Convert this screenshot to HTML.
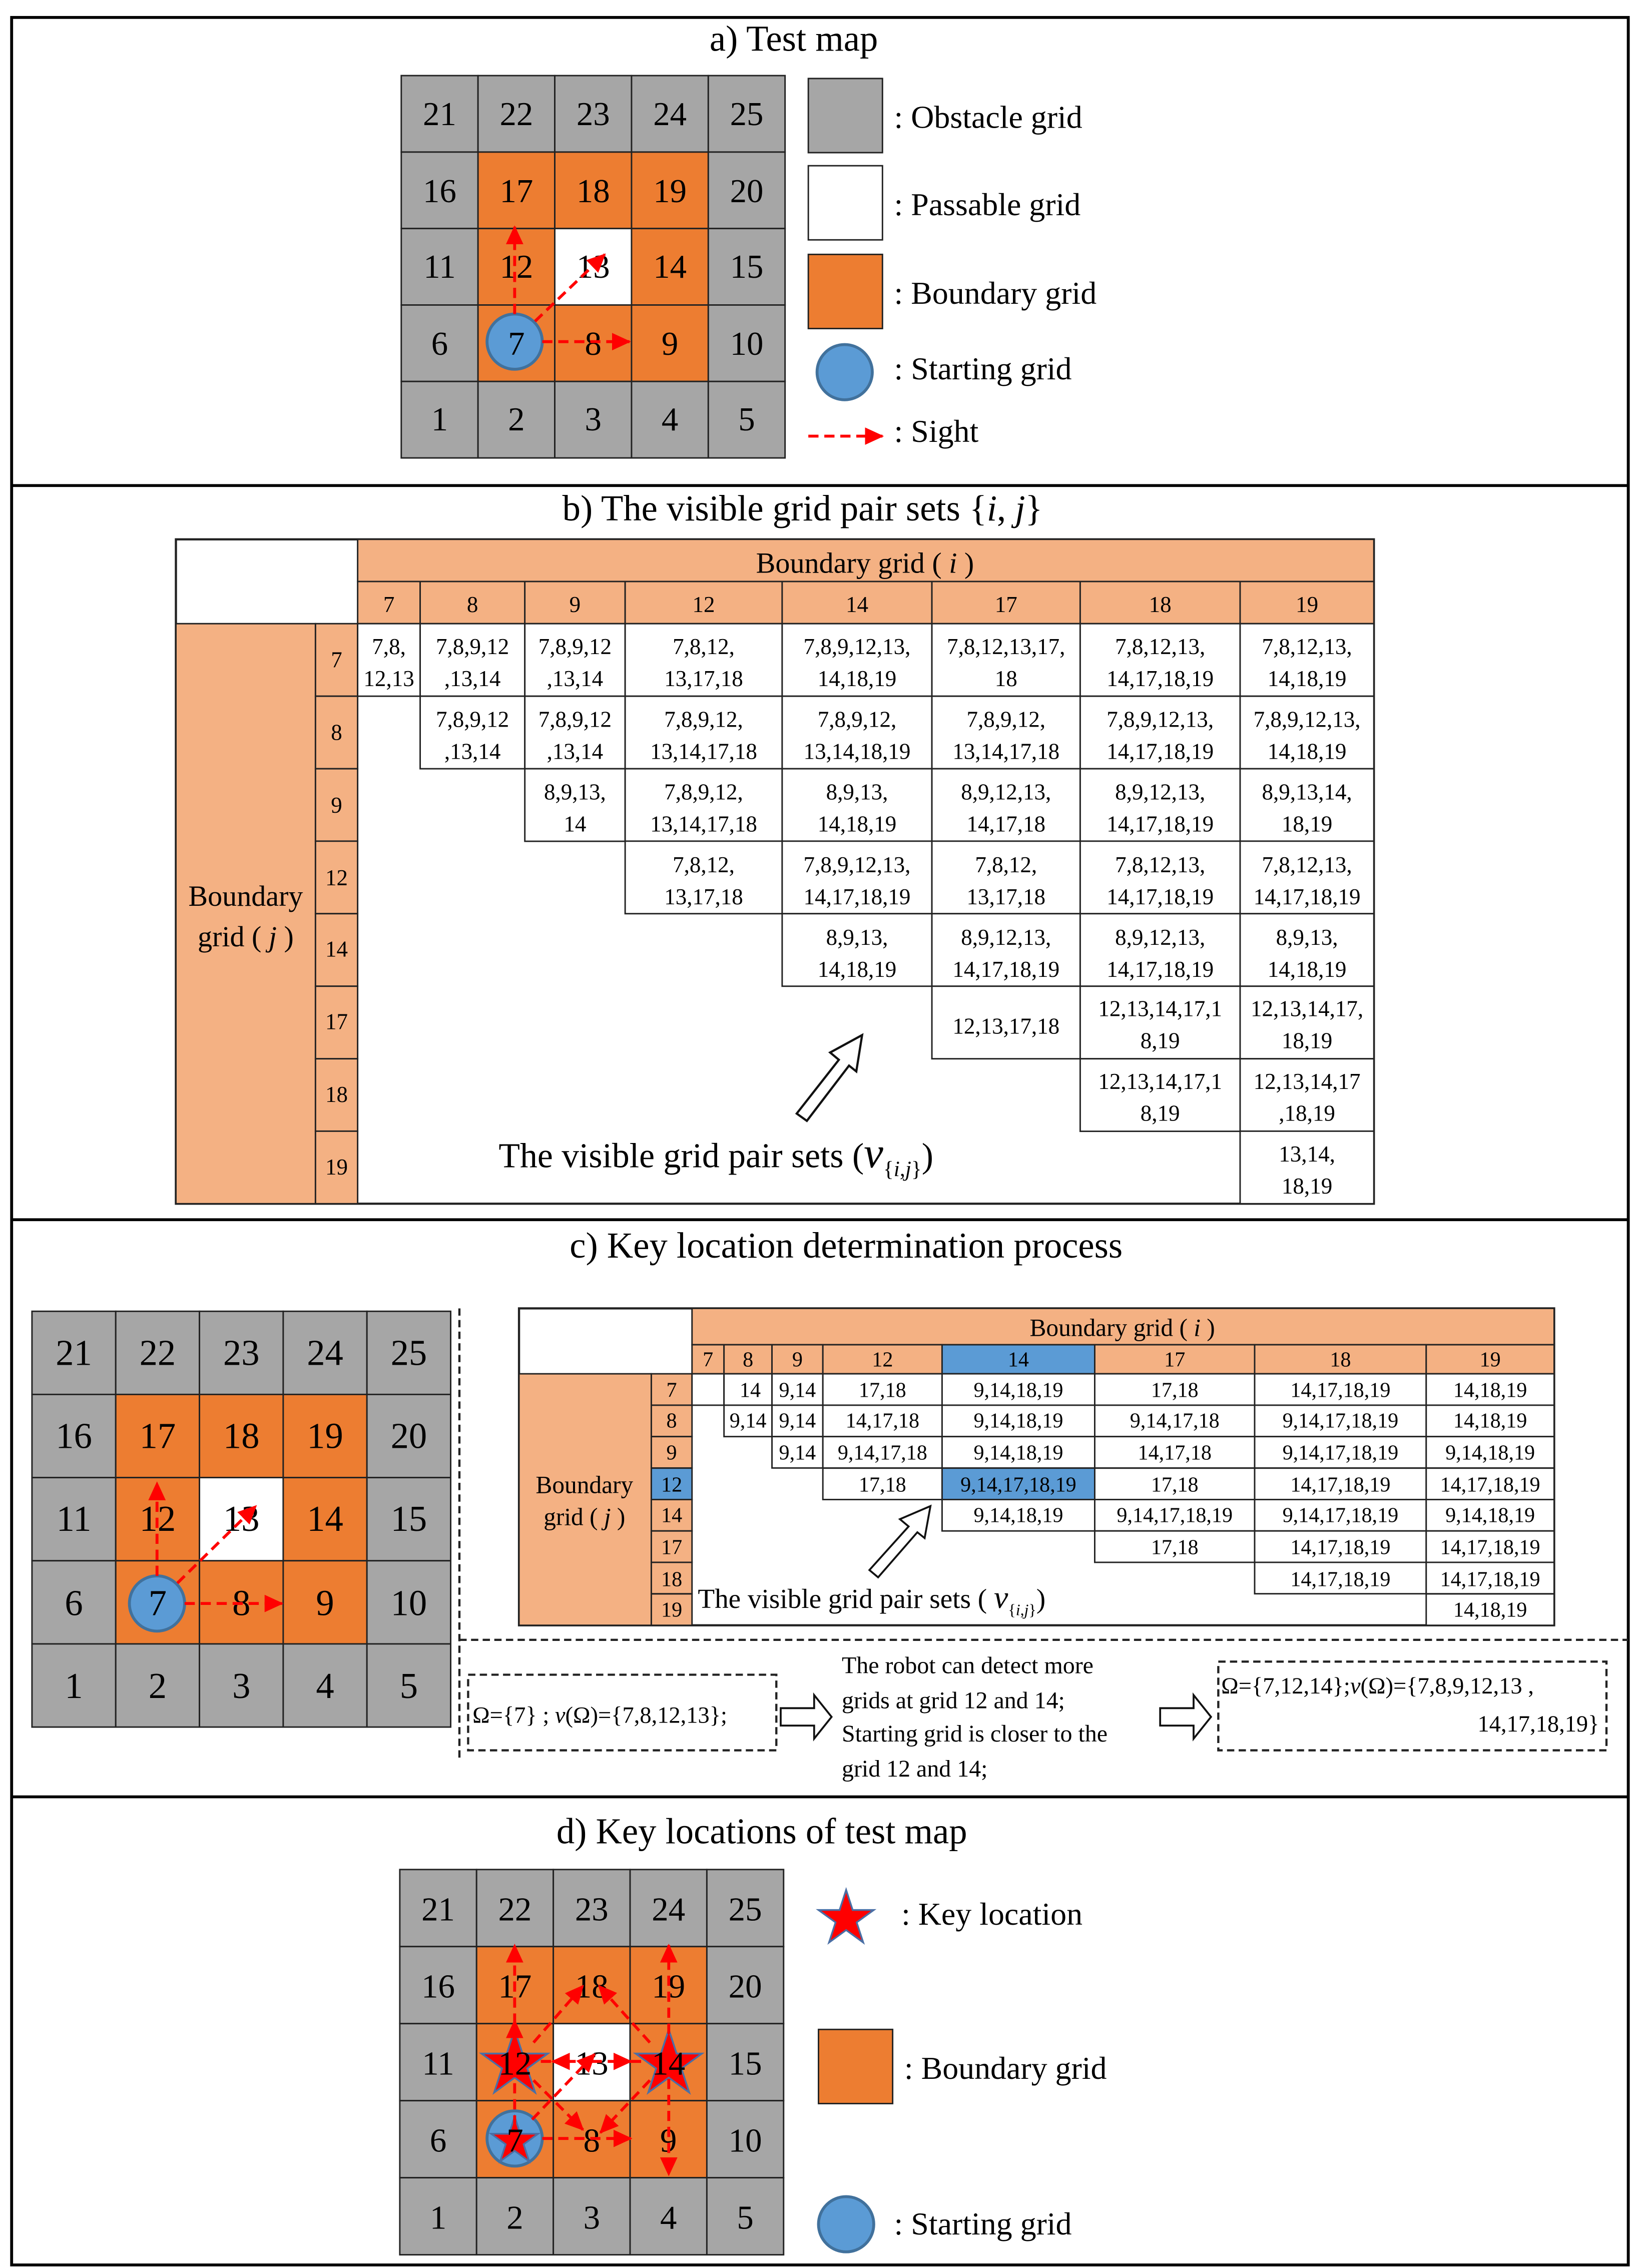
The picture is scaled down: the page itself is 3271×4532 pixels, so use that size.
<!DOCTYPE html>
<html><head><meta charset="utf-8"><style>
html,body{margin:0;padding:0;background:#fff}
svg{display:block}
text{font-family:"Liberation Serif",serif;fill:#000}
.g{fill:#A6A6A6;stroke:#222;stroke-width:1}
.o{fill:#ED7D31;stroke:#222;stroke-width:1}
.w{fill:#fff;stroke:#222;stroke-width:1}
.n{font-size:23px;text-anchor:middle}
.nc{font-size:25px;text-anchor:middle}
.t{font-size:25px;text-anchor:middle}
.lg{font-size:22px}
.h{fill:#F4B183;stroke:#222;stroke-width:1}
.c{fill:#fff;stroke:#222;stroke-width:1}
.b{fill:#5B9BD5;stroke:#222;stroke-width:1}
.tb{font-size:15.5px;text-anchor:middle}
.tc{font-size:14.5px;text-anchor:middle}
.ar{stroke:#FF0000;stroke-width:2;stroke-dasharray:7 4;fill:none}
.st{fill:#FF0000;stroke:#4A6FA5;stroke-width:1.2}
.dash{stroke:#222;stroke-width:1.5;stroke-dasharray:5 3;fill:none}
</style></head><body>
<svg width="3271" height="4532" viewBox="0 0 1126 1560.1" preserveAspectRatio="none" xmlns="http://www.w3.org/2000/svg">
<defs>
<marker id="ah" markerWidth="8" markerHeight="8" refX="7" refY="4" orient="auto" markerUnits="userSpaceOnUse" viewBox="0 0 8 8"><path d="M0,0 L8,4 L0,8 z" fill="#FF0000" transform="scale(1)"/></marker>
<marker id="ah2" markerWidth="13" markerHeight="12" refX="12" refY="6" orient="auto" markerUnits="userSpaceOnUse"><path d="M0,0 L13,6 L0,12 z" fill="#FF0000"/></marker>
<polygon id="star" points="0,-1 0.2245,-0.309 0.951,-0.309 0.363,0.118 0.588,0.809 0,0.382 -0.588,0.809 -0.363,0.118 -0.951,-0.309 -0.2245,-0.309"/>
</defs>
<rect x="0" y="0" width="1126" height="1560.1" fill="#fff"/>
<!-- outer frame -->
<rect x="8" y="12" width="1112" height="1546" fill="none" stroke="#000" stroke-width="2"/>
<line x1="8" y1="334" x2="1120" y2="334" stroke="#000" stroke-width="2"/>
<line x1="8" y1="839" x2="1120" y2="839" stroke="#000" stroke-width="2"/>
<line x1="8" y1="1236" x2="1120" y2="1236" stroke="#000" stroke-width="2"/>

<!-- ===== a ===== -->
<text x="546" y="35" class="t">a)  Test map</text>
<g>
<rect x="276" y="52" width="52.8" height="52.6" class="g"/><rect x="328.8" y="52" width="52.8" height="52.6" class="g"/><rect x="381.6" y="52" width="52.8" height="52.6" class="g"/><rect x="434.4" y="52" width="52.8" height="52.6" class="g"/><rect x="487.2" y="52" width="52.8" height="52.6" class="g"/>
<rect x="276" y="104.6" width="52.8" height="52.6" class="g"/><rect x="328.8" y="104.6" width="52.8" height="52.6" class="o"/><rect x="381.6" y="104.6" width="52.8" height="52.6" class="o"/><rect x="434.4" y="104.6" width="52.8" height="52.6" class="o"/><rect x="487.2" y="104.6" width="52.8" height="52.6" class="g"/>
<rect x="276" y="157.2" width="52.8" height="52.6" class="g"/><rect x="328.8" y="157.2" width="52.8" height="52.6" class="o"/><rect x="381.6" y="157.2" width="52.8" height="52.6" class="w"/><rect x="434.4" y="157.2" width="52.8" height="52.6" class="o"/><rect x="487.2" y="157.2" width="52.8" height="52.6" class="g"/>
<rect x="276" y="209.8" width="52.8" height="52.6" class="g"/><rect x="328.8" y="209.8" width="52.8" height="52.6" class="o"/><rect x="381.6" y="209.8" width="52.8" height="52.6" class="o"/><rect x="434.4" y="209.8" width="52.8" height="52.6" class="o"/><rect x="487.2" y="209.8" width="52.8" height="52.6" class="g"/>
<rect x="276" y="262.4" width="52.8" height="52.6" class="g"/><rect x="328.8" y="262.4" width="52.8" height="52.6" class="g"/><rect x="381.6" y="262.4" width="52.8" height="52.6" class="g"/><rect x="434.4" y="262.4" width="52.8" height="52.6" class="g"/><rect x="487.2" y="262.4" width="52.8" height="52.6" class="g"/>
<circle cx="354" cy="235" r="19" fill="#5B9BD5" stroke="#41719C" stroke-width="2"/>
<text x="302.4" y="86" class="n">21</text><text x="355.2" y="86" class="n">22</text><text x="408" y="86" class="n">23</text><text x="460.8" y="86" class="n">24</text><text x="513.6" y="86" class="n">25</text>
<text x="302.4" y="139" class="n">16</text><text x="355.2" y="139" class="n">17</text><text x="408" y="139" class="n">18</text><text x="460.8" y="139" class="n">19</text><text x="513.6" y="139" class="n">20</text>
<text x="302.4" y="191" class="n">11</text><text x="355.2" y="191" class="n">12</text><text x="408" y="191" class="n">13</text><text x="460.8" y="191" class="n">14</text><text x="513.6" y="191" class="n">15</text>
<text x="302.4" y="244" class="n">6</text><text x="355.2" y="244" class="n">7</text><text x="408" y="244" class="n">8</text><text x="460.8" y="244" class="n">9</text><text x="513.6" y="244" class="n">10</text>
<text x="302.4" y="296" class="n">1</text><text x="355.2" y="296" class="n">2</text><text x="408" y="296" class="n">3</text><text x="460.8" y="296" class="n">4</text><text x="513.6" y="296" class="n">5</text>
<line x1="354" y1="216" x2="354" y2="156" class="ar" marker-end="url(#ah2)"/>
<line x1="368" y1="221" x2="416" y2="175" class="ar" marker-end="url(#ah2)"/>
<line x1="373" y1="235" x2="433" y2="235" class="ar" marker-end="url(#ah2)"/>
</g>
<rect x="556" y="54" width="51" height="51" class="g"/>
<rect x="556" y="114" width="51" height="51" class="w"/>
<rect x="556" y="175" width="51" height="51" class="o"/>
<circle cx="581" cy="256" r="19" fill="#5B9BD5" stroke="#41719C" stroke-width="2"/>
<line x1="556" y1="300" x2="607" y2="300" class="ar" marker-end="url(#ah2)"/>
<text x="615" y="88" class="lg">: Obstacle grid</text>
<text x="615" y="148" class="lg">: Passable grid</text>
<text x="615" y="209" class="lg">: Boundary grid</text>
<text x="615" y="261" class="lg">: Starting grid</text>
<text x="615" y="304" class="lg">: Sight</text>

<!-- ===== b ===== -->
<text x="552" y="358" class="t">b)  The visible grid pair sets {<tspan font-style="italic">i</tspan>, <tspan font-style="italic">j</tspan>}</text>
<rect x="121" y="371" width="824" height="457" fill="#fff" stroke="#222" stroke-width="1.5"/>
<rect x="246" y="371" width="699" height="29" class="h"/>
<text x="595" y="394" style="font-size:20px;text-anchor:middle">Boundary grid ( <tspan font-style="italic">i</tspan> )</text>
<rect x="246" y="400" width="43" height="29" class="h"/><rect x="289" y="400" width="72" height="29" class="h"/><rect x="361" y="400" width="69" height="29" class="h"/><rect x="430" y="400" width="108" height="29" class="h"/><rect x="538" y="400" width="103" height="29" class="h"/><rect x="641" y="400" width="102" height="29" class="h"/><rect x="743" y="400" width="110" height="29" class="h"/><rect x="853" y="400" width="92" height="29" class="h"/>
<text x="267.5" y="421" class="tb">7</text><text x="325" y="421" class="tb">8</text><text x="395.5" y="421" class="tb">9</text><text x="484" y="421" class="tb">12</text><text x="589.5" y="421" class="tb">14</text><text x="692" y="421" class="tb">17</text><text x="798" y="421" class="tb">18</text><text x="899" y="421" class="tb">19</text>
<rect x="121" y="429" width="96" height="399" class="h"/>
<text x="169" y="623" style="font-size:20px;text-anchor:middle">Boundary</text>
<text x="169" y="651" style="font-size:20px;text-anchor:middle">grid ( <tspan font-style="italic">j</tspan> )</text>
<rect x="217" y="429" width="29" height="49.9" class="h"/><rect x="217" y="478.9" width="29" height="49.9" class="h"/><rect x="217" y="528.8" width="29" height="49.9" class="h"/><rect x="217" y="578.6" width="29" height="49.9" class="h"/><rect x="217" y="628.5" width="29" height="49.9" class="h"/><rect x="217" y="678.4" width="29" height="49.9" class="h"/><rect x="217" y="728.3" width="29" height="49.9" class="h"/><rect x="217" y="778.1" width="29" height="49.9" class="h"/>
<text x="231.5" y="459" class="tb">7</text><text x="231.5" y="509" class="tb">8</text><text x="231.5" y="559" class="tb">9</text><text x="231.5" y="609" class="tb">12</text><text x="231.5" y="658" class="tb">14</text><text x="231.5" y="708" class="tb">17</text><text x="231.5" y="758" class="tb">18</text><text x="231.5" y="808" class="tb">19</text>
<!-- row 7 -->
<rect x="246" y="429" width="43" height="49.9" class="c"/><rect x="289" y="429" width="72" height="49.9" class="c"/><rect x="361" y="429" width="69" height="49.9" class="c"/><rect x="430" y="429" width="108" height="49.9" class="c"/><rect x="538" y="429" width="103" height="49.9" class="c"/><rect x="641" y="429" width="102" height="49.9" class="c"/><rect x="743" y="429" width="110" height="49.9" class="c"/><rect x="853" y="429" width="92" height="49.9" class="c"/>
<text class="tb" x="267.5" y="450">7,8,</text><text class="tb" x="267.5" y="472">12,13</text>
<text class="tb" x="325" y="450">7,8,9,12</text><text class="tb" x="325" y="472">,13,14</text>
<text class="tb" x="395.5" y="450">7,8,9,12</text><text class="tb" x="395.5" y="472">,13,14</text>
<text class="tb" x="484" y="450">7,8,12,</text><text class="tb" x="484" y="472">13,17,18</text>
<text class="tb" x="589.5" y="450">7,8,9,12,13,</text><text class="tb" x="589.5" y="472">14,18,19</text>
<text class="tb" x="692" y="450">7,8,12,13,17,</text><text class="tb" x="692" y="472">18</text>
<text class="tb" x="798" y="450">7,8,12,13,</text><text class="tb" x="798" y="472">14,17,18,19</text>
<text class="tb" x="899" y="450">7,8,12,13,</text><text class="tb" x="899" y="472">14,18,19</text>
<!-- row 8 -->
<rect x="289" y="478.9" width="72" height="49.9" class="c"/><rect x="361" y="478.9" width="69" height="49.9" class="c"/><rect x="430" y="478.9" width="108" height="49.9" class="c"/><rect x="538" y="478.9" width="103" height="49.9" class="c"/><rect x="641" y="478.9" width="102" height="49.9" class="c"/><rect x="743" y="478.9" width="110" height="49.9" class="c"/><rect x="853" y="478.9" width="92" height="49.9" class="c"/>
<text class="tb" x="325" y="500">7,8,9,12</text><text class="tb" x="325" y="522">,13,14</text>
<text class="tb" x="395.5" y="500">7,8,9,12</text><text class="tb" x="395.5" y="522">,13,14</text>
<text class="tb" x="484" y="500">7,8,9,12,</text><text class="tb" x="484" y="522">13,14,17,18</text>
<text class="tb" x="589.5" y="500">7,8,9,12,</text><text class="tb" x="589.5" y="522">13,14,18,19</text>
<text class="tb" x="692" y="500">7,8,9,12,</text><text class="tb" x="692" y="522">13,14,17,18</text>
<text class="tb" x="798" y="500">7,8,9,12,13,</text><text class="tb" x="798" y="522">14,17,18,19</text>
<text class="tb" x="899" y="500">7,8,9,12,13,</text><text class="tb" x="899" y="522">14,18,19</text>
<!-- row 9 -->
<rect x="361" y="528.8" width="69" height="49.9" class="c"/><rect x="430" y="528.8" width="108" height="49.9" class="c"/><rect x="538" y="528.8" width="103" height="49.9" class="c"/><rect x="641" y="528.8" width="102" height="49.9" class="c"/><rect x="743" y="528.8" width="110" height="49.9" class="c"/><rect x="853" y="528.8" width="92" height="49.9" class="c"/>
<text class="tb" x="395.5" y="550">8,9,13,</text><text class="tb" x="395.5" y="572">14</text>
<text class="tb" x="484" y="550">7,8,9,12,</text><text class="tb" x="484" y="572">13,14,17,18</text>
<text class="tb" x="589.5" y="550">8,9,13,</text><text class="tb" x="589.5" y="572">14,18,19</text>
<text class="tb" x="692" y="550">8,9,12,13,</text><text class="tb" x="692" y="572">14,17,18</text>
<text class="tb" x="798" y="550">8,9,12,13,</text><text class="tb" x="798" y="572">14,17,18,19</text>
<text class="tb" x="899" y="550">8,9,13,14,</text><text class="tb" x="899" y="572">18,19</text>
<!-- row 12 -->
<rect x="430" y="578.6" width="108" height="49.9" class="c"/><rect x="538" y="578.6" width="103" height="49.9" class="c"/><rect x="641" y="578.6" width="102" height="49.9" class="c"/><rect x="743" y="578.6" width="110" height="49.9" class="c"/><rect x="853" y="578.6" width="92" height="49.9" class="c"/>
<text class="tb" x="484" y="600">7,8,12,</text><text class="tb" x="484" y="622">13,17,18</text>
<text class="tb" x="589.5" y="600">7,8,9,12,13,</text><text class="tb" x="589.5" y="622">14,17,18,19</text>
<text class="tb" x="692" y="600">7,8,12,</text><text class="tb" x="692" y="622">13,17,18</text>
<text class="tb" x="798" y="600">7,8,12,13,</text><text class="tb" x="798" y="622">14,17,18,19</text>
<text class="tb" x="899" y="600">7,8,12,13,</text><text class="tb" x="899" y="622">14,17,18,19</text>
<!-- row 14 -->
<rect x="538" y="628.5" width="103" height="49.9" class="c"/><rect x="641" y="628.5" width="102" height="49.9" class="c"/><rect x="743" y="628.5" width="110" height="49.9" class="c"/><rect x="853" y="628.5" width="92" height="49.9" class="c"/>
<text class="tb" x="589.5" y="650">8,9,13,</text><text class="tb" x="589.5" y="672">14,18,19</text>
<text class="tb" x="692" y="650">8,9,12,13,</text><text class="tb" x="692" y="672">14,17,18,19</text>
<text class="tb" x="798" y="650">8,9,12,13,</text><text class="tb" x="798" y="672">14,17,18,19</text>
<text class="tb" x="899" y="650">8,9,13,</text><text class="tb" x="899" y="672">14,18,19</text>
<!-- row 17 -->
<rect x="641" y="678.4" width="102" height="49.9" class="c"/><rect x="743" y="678.4" width="110" height="49.9" class="c"/><rect x="853" y="678.4" width="92" height="49.9" class="c"/>
<text class="tb" x="692" y="711">12,13,17,18</text>
<text class="tb" x="798" y="699">12,13,14,17,1</text><text class="tb" x="798" y="721">8,19</text>
<text class="tb" x="899" y="699">12,13,14,17,</text><text class="tb" x="899" y="721">18,19</text>
<!-- row 18 -->
<rect x="743" y="728.3" width="110" height="49.9" class="c"/><rect x="853" y="728.3" width="92" height="49.9" class="c"/>
<text class="tb" x="798" y="749">12,13,14,17,1</text><text class="tb" x="798" y="771">8,19</text>
<text class="tb" x="899" y="749">12,13,14,17</text><text class="tb" x="899" y="771">,18,19</text>
<!-- row 19 -->
<rect x="853" y="778.1" width="92" height="49.9" class="c"/>
<text class="tb" x="899" y="799">13,14,</text><text class="tb" x="899" y="821">18,19</text>
<!-- hollow arrow b -->
<polygon points="548,766 577,729 571,724 593,712 589,737 584,733 555,771" fill="#fff" stroke="#111" stroke-width="1.5"/>
<text x="343" y="803" style="font-size:24px">The visible grid pair sets (<tspan font-style="italic" font-size="30">v</tspan><tspan font-size="15" dy="6">{<tspan font-style="italic">i</tspan>,<tspan font-style="italic">j</tspan>}</tspan><tspan dy="-6">)</tspan></text>

<!-- ===== c ===== -->
<text x="582" y="865" class="t">c)  Key location determination process</text>
<g>
<rect x="22" y="902" width="57.6" height="57.2" class="g"/><rect x="79.6" y="902" width="57.6" height="57.2" class="g"/><rect x="137.2" y="902" width="57.6" height="57.2" class="g"/><rect x="194.8" y="902" width="57.6" height="57.2" class="g"/><rect x="252.4" y="902" width="57.6" height="57.2" class="g"/>
<rect x="22" y="959.2" width="57.6" height="57.2" class="g"/><rect x="79.6" y="959.2" width="57.6" height="57.2" class="o"/><rect x="137.2" y="959.2" width="57.6" height="57.2" class="o"/><rect x="194.8" y="959.2" width="57.6" height="57.2" class="o"/><rect x="252.4" y="959.2" width="57.6" height="57.2" class="g"/>
<rect x="22" y="1016.4" width="57.6" height="57.2" class="g"/><rect x="79.6" y="1016.4" width="57.6" height="57.2" class="o"/><rect x="137.2" y="1016.4" width="57.6" height="57.2" class="w"/><rect x="194.8" y="1016.4" width="57.6" height="57.2" class="o"/><rect x="252.4" y="1016.4" width="57.6" height="57.2" class="g"/>
<rect x="22" y="1073.6" width="57.6" height="57.2" class="g"/><rect x="79.6" y="1073.6" width="57.6" height="57.2" class="o"/><rect x="137.2" y="1073.6" width="57.6" height="57.2" class="o"/><rect x="194.8" y="1073.6" width="57.6" height="57.2" class="o"/><rect x="252.4" y="1073.6" width="57.6" height="57.2" class="g"/>
<rect x="22" y="1130.8" width="57.6" height="57.2" class="g"/><rect x="79.6" y="1130.8" width="57.6" height="57.2" class="g"/><rect x="137.2" y="1130.8" width="57.6" height="57.2" class="g"/><rect x="194.8" y="1130.8" width="57.6" height="57.2" class="g"/><rect x="252.4" y="1130.8" width="57.6" height="57.2" class="g"/>
<circle cx="108" cy="1103" r="19" fill="#5B9BD5" stroke="#41719C" stroke-width="2"/>
<text x="50.8" y="939" class="nc">21</text><text x="108.4" y="939" class="nc">22</text><text x="166" y="939" class="nc">23</text><text x="223.6" y="939" class="nc">24</text><text x="281.2" y="939" class="nc">25</text>
<text x="50.8" y="996" class="nc">16</text><text x="108.4" y="996" class="nc">17</text><text x="166" y="996" class="nc">18</text><text x="223.6" y="996" class="nc">19</text><text x="281.2" y="996" class="nc">20</text>
<text x="50.8" y="1053" class="nc">11</text><text x="108.4" y="1053" class="nc">12</text><text x="166" y="1053" class="nc">13</text><text x="223.6" y="1053" class="nc">14</text><text x="281.2" y="1053" class="nc">15</text>
<text x="50.8" y="1111" class="nc">6</text><text x="108.4" y="1111" class="nc">7</text><text x="166" y="1111" class="nc">8</text><text x="223.6" y="1111" class="nc">9</text><text x="281.2" y="1111" class="nc">10</text>
<text x="50.8" y="1168" class="nc">1</text><text x="108.4" y="1168" class="nc">2</text><text x="166" y="1168" class="nc">3</text><text x="223.6" y="1168" class="nc">4</text><text x="281.2" y="1168" class="nc">5</text>
<line x1="108" y1="1084" x2="108" y2="1020" class="ar" marker-end="url(#ah2)"/>
<line x1="122" y1="1089" x2="176" y2="1036" class="ar" marker-end="url(#ah2)"/>
<line x1="127" y1="1103" x2="194" y2="1103" class="ar" marker-end="url(#ah2)"/>
</g>
<line x1="316" y1="900" x2="316" y2="1212" class="dash"/>
<line x1="316" y1="1128" x2="1120" y2="1128" class="dash"/>
<!-- small table -->
<rect x="357" y="900" width="712" height="218" fill="#fff" stroke="#222" stroke-width="1.5"/>
<rect x="476" y="900" width="593" height="25" class="h"/>
<text x="772" y="919" style="font-size:17px;text-anchor:middle">Boundary grid ( <tspan font-style="italic">i</tspan> )</text>
<rect x="476" y="925" width="22" height="20" class="h"/><rect x="498" y="925" width="33" height="20" class="h"/><rect x="531" y="925" width="35" height="20" class="h"/><rect x="566" y="925" width="82" height="20" class="h"/><rect x="648" y="925" width="105" height="20" class="b"/><rect x="753" y="925" width="110" height="20" class="h"/><rect x="863" y="925" width="118" height="20" class="h"/><rect x="981" y="925" width="88" height="20" class="h"/>
<text class="tc" x="487" y="940">7</text><text class="tc" x="514.5" y="940">8</text><text class="tc" x="548.5" y="940">9</text><text class="tc" x="607" y="940">12</text><text class="tc" x="700.5" y="940">14</text><text class="tc" x="808" y="940">17</text><text class="tc" x="922" y="940">18</text><text class="tc" x="1025" y="940">19</text>
<rect x="357" y="945" width="91" height="173" class="h"/>
<text x="402" y="1027" style="font-size:17px;text-anchor:middle">Boundary</text>
<text x="402" y="1049" style="font-size:17px;text-anchor:middle">grid ( <tspan font-style="italic">j</tspan> )</text>
<rect x="448" y="945" width="28" height="21.6" class="h"/><rect x="448" y="966.6" width="28" height="21.6" class="h"/><rect x="448" y="988.2" width="28" height="21.6" class="h"/><rect x="448" y="1009.9" width="28" height="21.6" class="b"/><rect x="448" y="1031.5" width="28" height="21.6" class="h"/><rect x="448" y="1053.1" width="28" height="21.6" class="h"/><rect x="448" y="1074.7" width="28" height="21.6" class="h"/><rect x="448" y="1096.4" width="28" height="21.6" class="h"/>
<text class="tc" x="462" y="961">7</text><text class="tc" x="462" y="982">8</text><text class="tc" x="462" y="1004">9</text><text class="tc" x="462" y="1026">12</text><text class="tc" x="462" y="1047">14</text><text class="tc" x="462" y="1069">17</text><text class="tc" x="462" y="1091">18</text><text class="tc" x="462" y="1112">19</text>
<!-- rows -->
<rect x="476" y="945" width="22" height="21.6" class="c"/><rect x="498" y="945" width="33" height="21.6" class="c"/><rect x="531" y="945" width="35" height="21.6" class="c"/><rect x="566" y="945" width="82" height="21.6" class="c"/><rect x="648" y="945" width="105" height="21.6" class="c"/><rect x="753" y="945" width="110" height="21.6" class="c"/><rect x="863" y="945" width="118" height="21.6" class="c"/><rect x="981" y="945" width="88" height="21.6" class="c"/>
<text class="tc" x="516" y="961">14</text><text class="tc" x="548.5" y="961">9,14</text><text class="tc" x="607" y="961">17,18</text><text class="tc" x="700.5" y="961">9,14,18,19</text><text class="tc" x="808" y="961">17,18</text><text class="tc" x="922" y="961">14,17,18,19</text><text class="tc" x="1025" y="961">14,18,19</text>
<rect x="498" y="966.6" width="33" height="21.6" class="c"/><rect x="531" y="966.6" width="35" height="21.6" class="c"/><rect x="566" y="966.6" width="82" height="21.6" class="c"/><rect x="648" y="966.6" width="105" height="21.6" class="c"/><rect x="753" y="966.6" width="110" height="21.6" class="c"/><rect x="863" y="966.6" width="118" height="21.6" class="c"/><rect x="981" y="966.6" width="88" height="21.6" class="c"/>
<text class="tc" x="514.5" y="982">9,14</text><text class="tc" x="548.5" y="982">9,14</text><text class="tc" x="607" y="982">14,17,18</text><text class="tc" x="700.5" y="982">9,14,18,19</text><text class="tc" x="808" y="982">9,14,17,18</text><text class="tc" x="922" y="982">9,14,17,18,19</text><text class="tc" x="1025" y="982">14,18,19</text>
<rect x="531" y="988.2" width="35" height="21.6" class="c"/><rect x="566" y="988.2" width="82" height="21.6" class="c"/><rect x="648" y="988.2" width="105" height="21.6" class="c"/><rect x="753" y="988.2" width="110" height="21.6" class="c"/><rect x="863" y="988.2" width="118" height="21.6" class="c"/><rect x="981" y="988.2" width="88" height="21.6" class="c"/>
<text class="tc" x="548.5" y="1004">9,14</text><text class="tc" x="607" y="1004">9,14,17,18</text><text class="tc" x="700.5" y="1004">9,14,18,19</text><text class="tc" x="808" y="1004">14,17,18</text><text class="tc" x="922" y="1004">9,14,17,18,19</text><text class="tc" x="1025" y="1004">9,14,18,19</text>
<rect x="566" y="1009.9" width="82" height="21.6" class="c"/><rect x="648" y="1009.9" width="105" height="21.6" class="b"/><rect x="753" y="1009.9" width="110" height="21.6" class="c"/><rect x="863" y="1009.9" width="118" height="21.6" class="c"/><rect x="981" y="1009.9" width="88" height="21.6" class="c"/>
<text class="tc" x="607" y="1026">17,18</text><text class="tc" x="700.5" y="1026">9,14,17,18,19</text><text class="tc" x="808" y="1026">17,18</text><text class="tc" x="922" y="1026">14,17,18,19</text><text class="tc" x="1025" y="1026">14,17,18,19</text>
<rect x="648" y="1031.5" width="105" height="21.6" class="c"/><rect x="753" y="1031.5" width="110" height="21.6" class="c"/><rect x="863" y="1031.5" width="118" height="21.6" class="c"/><rect x="981" y="1031.5" width="88" height="21.6" class="c"/>
<text class="tc" x="700.5" y="1047">9,14,18,19</text><text class="tc" x="808" y="1047">9,14,17,18,19</text><text class="tc" x="922" y="1047">9,14,17,18,19</text><text class="tc" x="1025" y="1047">9,14,18,19</text>
<rect x="753" y="1053.1" width="110" height="21.6" class="c"/><rect x="863" y="1053.1" width="118" height="21.6" class="c"/><rect x="981" y="1053.1" width="88" height="21.6" class="c"/>
<text class="tc" x="808" y="1069">17,18</text><text class="tc" x="922" y="1069">14,17,18,19</text><text class="tc" x="1025" y="1069">14,17,18,19</text>
<rect x="863" y="1074.7" width="118" height="21.6" class="c"/><rect x="981" y="1074.7" width="88" height="21.6" class="c"/>
<text class="tc" x="922" y="1091">14,17,18,19</text><text class="tc" x="1025" y="1091">14,17,18,19</text>
<rect x="981" y="1096.4" width="88" height="21.6" class="c"/>
<text class="tc" x="1025" y="1112">14,18,19</text>
<polygon points="598,1080 625,1050 619,1045 640,1036 636,1058 631,1054 604,1085" fill="#fff" stroke="#111" stroke-width="1.3"/>
<text x="480" y="1106" style="font-size:19px">The visible grid pair sets ( <tspan font-style="italic" font-size="22">v</tspan><tspan font-size="11" dy="5">{<tspan font-style="italic">i</tspan>,<tspan font-style="italic">j</tspan>}</tspan><tspan dy="-5">)</tspan></text>
<!-- process boxes -->
<rect x="322" y="1152" width="212" height="52" class="dash"/>
<text x="325" y="1185" style="font-size:16px">Ω={7} ; <tspan font-style="italic">v</tspan>(Ω)={7,8,12,13};</text>
<polygon points="537,1175 560,1175 560,1166 572,1181 560,1196 560,1187 537,1187" fill="#fff" stroke="#111" stroke-width="1.3"/>
<text x="579" y="1151" style="font-size:16.5px">The robot can detect more</text>
<text x="579" y="1175" style="font-size:16.5px">grids at grid 12 and 14;</text>
<text x="579" y="1198" style="font-size:16.5px">Starting grid is closer to the</text>
<text x="579" y="1222" style="font-size:16.5px">grid 12 and 14;</text>
<polygon points="798,1175 821,1175 821,1166 833,1181 821,1196 821,1187 798,1187" fill="#fff" stroke="#111" stroke-width="1.3"/>
<rect x="838" y="1143" width="267" height="61" class="dash"/>
<text x="840" y="1165" style="font-size:16px">Ω={7,12,14};<tspan font-style="italic">v</tspan>(Ω)={7,8,9,12,13 ,</text>
<text x="1100" y="1191" style="font-size:16px;text-anchor:end">14,17,18,19}</text>

<!-- ===== d ===== -->
<text x="524" y="1268" class="t">d) Key locations of test map</text>
<g>
<rect x="275" y="1286" width="52.8" height="53" class="g"/><rect x="327.8" y="1286" width="52.8" height="53" class="g"/><rect x="380.6" y="1286" width="52.8" height="53" class="g"/><rect x="433.4" y="1286" width="52.8" height="53" class="g"/><rect x="486.2" y="1286" width="52.8" height="53" class="g"/>
<rect x="275" y="1339" width="52.8" height="53" class="g"/><rect x="327.8" y="1339" width="52.8" height="53" class="o"/><rect x="380.6" y="1339" width="52.8" height="53" class="o"/><rect x="433.4" y="1339" width="52.8" height="53" class="o"/><rect x="486.2" y="1339" width="52.8" height="53" class="g"/>
<rect x="275" y="1392" width="52.8" height="53" class="g"/><rect x="327.8" y="1392" width="52.8" height="53" class="o"/><rect x="380.6" y="1392" width="52.8" height="53" class="w"/><rect x="433.4" y="1392" width="52.8" height="53" class="o"/><rect x="486.2" y="1392" width="52.8" height="53" class="g"/>
<rect x="275" y="1445" width="52.8" height="53" class="g"/><rect x="327.8" y="1445" width="52.8" height="53" class="o"/><rect x="380.6" y="1445" width="52.8" height="53" class="o"/><rect x="433.4" y="1445" width="52.8" height="53" class="o"/><rect x="486.2" y="1445" width="52.8" height="53" class="g"/>
<rect x="275" y="1498" width="52.8" height="53" class="g"/><rect x="327.8" y="1498" width="52.8" height="53" class="g"/><rect x="380.6" y="1498" width="52.8" height="53" class="g"/><rect x="433.4" y="1498" width="52.8" height="53" class="g"/><rect x="486.2" y="1498" width="52.8" height="53" class="g"/>
<circle cx="354" cy="1471" r="19" fill="#5B9BD5" stroke="#41719C" stroke-width="2"/>
<use href="#star" class="st" transform="translate(354,1473) scale(17)" style="stroke-width:0.07"/>
<use href="#star" class="st" transform="translate(354,1420) scale(24)" style="stroke-width:0.05"/>
<use href="#star" class="st" transform="translate(460,1420) scale(24)" style="stroke-width:0.05"/>
<text x="301.4" y="1321" class="n">21</text><text x="354.2" y="1321" class="n">22</text><text x="407" y="1321" class="n">23</text><text x="459.8" y="1321" class="n">24</text><text x="512.6" y="1321" class="n">25</text>
<text x="301.4" y="1374" class="n">16</text><text x="354.2" y="1374" class="n">17</text><text x="407" y="1374" class="n">18</text><text x="459.8" y="1374" class="n">19</text><text x="512.6" y="1374" class="n">20</text>
<text x="301.4" y="1427" class="n">11</text><text x="354.2" y="1427" class="n">12</text><text x="407" y="1427" class="n">13</text><text x="459.8" y="1427" class="n">14</text><text x="512.6" y="1427" class="n">15</text>
<text x="301.4" y="1480" class="n">6</text><text x="354.2" y="1480" class="n">7</text><text x="407" y="1480" class="n">8</text><text x="459.8" y="1480" class="n">9</text><text x="512.6" y="1480" class="n">10</text>
<text x="301.4" y="1533" class="n">1</text><text x="354.2" y="1533" class="n">2</text><text x="407" y="1533" class="n">3</text><text x="459.8" y="1533" class="n">4</text><text x="512.6" y="1533" class="n">5</text>
<line x1="354" y1="1462" x2="354" y2="1390" class="ar" marker-end="url(#ah2)"/>
<line x1="354" y1="1392" x2="354" y2="1338" class="ar" marker-end="url(#ah2)"/>
<line x1="460" y1="1410" x2="460" y2="1338" class="ar" marker-end="url(#ah2)"/>
<line x1="460" y1="1430" x2="460" y2="1496" class="ar" marker-end="url(#ah2)"/>
<line x1="372" y1="1418" x2="381" y2="1418" class="ar"/>
<line x1="407" y1="1418" x2="380" y2="1418" class="ar" marker-end="url(#ah2)"/>
<line x1="407" y1="1418" x2="434" y2="1418" class="ar" marker-end="url(#ah2)"/>
<line x1="434" y1="1418" x2="441" y2="1418" class="ar"/>
<line x1="367" y1="1405" x2="401" y2="1366" class="ar" marker-end="url(#ah2)"/>
<line x1="447" y1="1405" x2="412" y2="1366" class="ar" marker-end="url(#ah2)"/>
<line x1="367" y1="1431" x2="401" y2="1465" class="ar" marker-end="url(#ah2)"/>
<line x1="447" y1="1431" x2="413" y2="1467" class="ar" marker-end="url(#ah2)"/>
<line x1="366" y1="1458" x2="409" y2="1413" class="ar" marker-end="url(#ah2)"/>
<line x1="373" y1="1471" x2="434" y2="1471" class="ar" marker-end="url(#ah2)"/>
</g>
<use href="#star" class="st" transform="translate(582,1320) scale(20)" style="stroke-width:0.06"/>
<text x="620" y="1324" class="lg">: Key location</text>
<rect x="563" y="1396" width="51" height="51" class="o"/>
<text x="622" y="1430" class="lg">: Boundary grid</text>
<circle cx="582" cy="1530" r="19" fill="#5B9BD5" stroke="#41719C" stroke-width="2"/>
<text x="615" y="1537" class="lg">: Starting grid</text>
</svg>
</body></html>
